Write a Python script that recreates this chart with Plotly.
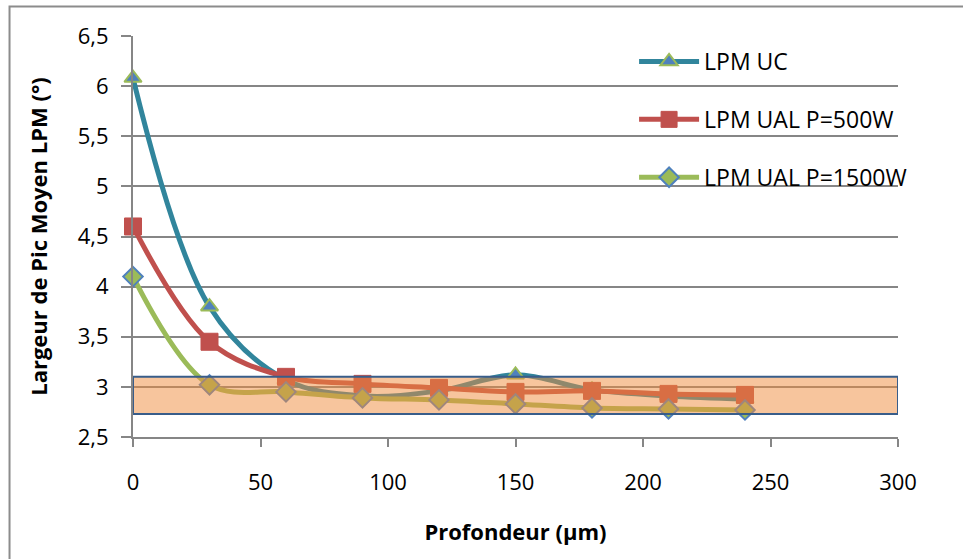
import plotly.graph_objects as go

depth = [0, 30, 60, 90, 120, 150, 180, 210, 240]
lpm_uc = [6.08, 3.80, 3.07, 2.91, 2.96, 3.12, 2.97, 2.91, 2.88]
lpm_ual_500 = [4.60, 3.45, 3.10, 3.03, 2.99, 2.95, 2.96, 2.93, 2.92]
lpm_ual_1500 = [4.10, 3.02, 2.95, 2.89, 2.87, 2.83, 2.79, 2.78, 2.77]
names = ["LPM UC", "LPM UAL P=500W", "LPM UAL P=1500W"]
band_x = [0, 300]
band_y = [2.73, 3.10]

FONT = "Open Sans"

fig = go.Figure()
fig.add_trace(go.Scatter(
    x=depth, y=lpm_uc, name=names[0], mode="lines+markers", cliponaxis=False,
    line=dict(color="#31859C", width=5, shape="spline", smoothing=1),
    marker=dict(symbol="triangle-up", size=15, color="#4F81BD",
                line=dict(color="#9BBB59", width=2)),
    legendgroup="a"))
fig.add_trace(go.Scatter(
    x=depth, y=lpm_ual_500, name=names[1], mode="lines+markers", cliponaxis=False,
    line=dict(color="#C0504D", width=5, shape="spline", smoothing=1),
    marker=dict(symbol="square", size=17, color="#C0504D",
                line=dict(color="#C0504D", width=1)),
    legendgroup="b"))
fig.add_trace(go.Scatter(
    x=depth, y=lpm_ual_1500, name=names[2], mode="lines+markers", cliponaxis=False,
    line=dict(color="#9BBB59", width=5, shape="spline", smoothing=1),
    marker=dict(symbol="diamond", size=15, color="#9BBB59",
                line=dict(color="#4F81BD", width=2)),
    legendgroup="c"))

fig.add_shape(type="rect", xref="x", yref="y",
              x0=band_x[0], x1=band_x[1], y0=band_y[0], y1=band_y[1],
              fillcolor="rgba(240,140,60,0.5)",
              line=dict(color="#385D8A", width=2), layer="above")

# outer chart border
fig.add_shape(type="rect", xref="paper", yref="paper",
              x0=-0.1614, x1=1.25, y0=-0.4, y1=1.0736,
              line=dict(color="#8C8C8C", width=2), fillcolor="rgba(0,0,0,0)",
              layer="below")

fig.update_layout(
    width=963, height=559,
    margin=dict(l=133, r=65, t=36, b=122, autoexpand=False),
    paper_bgcolor="white", plot_bgcolor="white",
    separators=", ",
    font=dict(family=FONT, size=22, color="black"),
    showlegend=True,
    legend=dict(x=0.655, y=0.99, xanchor="left", yanchor="top",
                bgcolor="rgba(0,0,0,0)", tracegroupgap=25,
                font=dict(family=FONT, size=23), itemwidth=60),
    xaxis=dict(range=[0, 300], dtick=50, tick0=0, showgrid=False,
               showline=True, linecolor="#868686", linewidth=2,
               ticks="outside", ticklen=8, tickcolor="#868686", tickwidth=2,
               ticklabelstandoff=17, zeroline=False, automargin=False,
               title=dict(text="<b>Profondeur (µm)</b>", font=dict(size=22),
                          standoff=29)),
    yaxis=dict(range=[2.5, 6.5], dtick=0.5, tick0=2.5, showgrid=True,
               gridcolor="#868686", gridwidth=1.5,
               showline=True, linecolor="#868686", linewidth=2,
               ticks="outside", ticklen=10, tickcolor="#868686", tickwidth=2,
               ticklabelstandoff=8, zeroline=False, automargin=False,
               title=dict(text="<b>Largeur de Pic Moyen LPM (°)</b>",
                          font=dict(size=22), standoff=24)),
)

fig.write_html("out.html", config={"displayModeBar": False},
               post_script="document.body.style.margin='0';")
